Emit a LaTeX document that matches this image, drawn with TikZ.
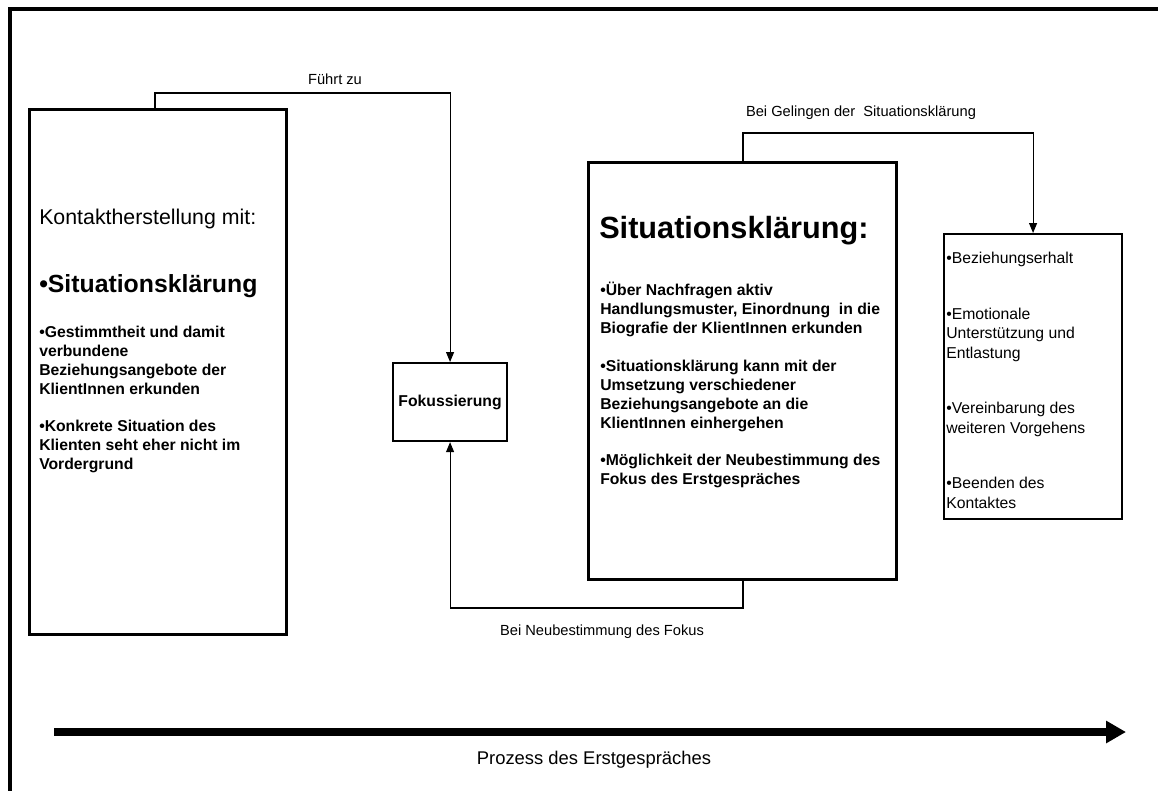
\documentclass[tikz,border=0pt]{standalone}
\usepackage{fontspec}
\setmainfont{Liberation Sans}
\usetikzlibrary{arrows.meta}

\begin{document}
\begin{tikzpicture}[x=0.75pt,y=-0.75pt,
  frame/.style={line width=3pt},
  boxthick/.style={draw,line width=2.2pt,inner sep=0pt,anchor=north west},
  boxthin/.style={draw,line width=1.6pt,inner sep=0pt,anchor=north west},
  conn/.style={line width=0.8pt,-{Triangle[length=7.5pt,width=6pt]}},
  txt/.style={inner sep=0pt,anchor=base west,align=left},
  bul/.style={txt,font=\fontsize{11.8pt}{14.25pt}\selectfont\bfseries},
  reg/.style={txt,font=\fontsize{11.8pt}{14.6pt}\selectfont},
  lbl/.style={inner sep=0pt,font=\fontsize{11pt}{13pt}\selectfont},
  flow/.style={line width=6pt,-{Triangle[length=15pt,width=16pt]}}
]
\clip (0,0) rectangle (1158,790);
\fill[white] (0,0) rectangle (1158,790);

% outer frame, running off the page to the right and at the bottom
\draw[frame] (10,9) rectangle (1200,830);

% boxes
\node[boxthick,minimum width=192.75pt,minimum height=393.75pt] (L) at (28,108) {};
\node[boxthin,minimum width=85.5pt,minimum height=58.5pt] (F) at (392,362) {};
\node[font=\fontsize{11.8pt}{14pt}\selectfont\bfseries,inner sep=0pt] (Ft) at (F.center) {Fokussierung};
\node[boxthick,minimum width=231pt,minimum height=312.75pt] (S) at (587,161) {};
\node[boxthin,minimum width=133.5pt,minimum height=213.75pt] (R) at (943,233) {};

% left box text (multi-line blocks are placed by the baseline of their last line)
\node[txt,font=\fontsize{16pt}{18pt}\selectfont] (K1) at (39,224) {Kontaktherstellung mit:};
\node[txt,font=\fontsize{18.6pt}{21pt}\selectfont\bfseries] (K2) at (39,292) {•Situationsklärung};
\node[bul] (K3) at (39,394) {•Gestimmtheit und damit\\verbundene\\Beziehungsangebote der\\KlientInnen erkunden};
\node[bul] (K4) at (39,469) {•Konkrete Situation des\\Klienten seht eher nicht im\\Vordergrund};

% middle box text
\node[txt,font=\fontsize{23pt}{26pt}\selectfont\bfseries] (M1) at (599,238) {Situationsklärung:};
\node[bul] (M2) at (600,333) {•Über Nachfragen aktiv\\Handlungsmuster, Einordnung\ \ in die\\Biografie der KlientInnen erkunden};
\node[bul] (M3) at (600,428) {•Situationsklärung kann mit der\\Umsetzung verschiedener\\Beziehungsangebote an die\\KlientInnen einhergehen};
\node[bul] (M4) at (600,484) {•Möglichkeit der Neubestimmung des\\Fokus des Erstgespräches};

% right box text
\node[reg] (R1) at (946,263) {•Beziehungserhalt};
\node[reg] (R2) at (946,358) {•Emotionale\\Unterstützung und\\Entlastung};
\node[reg] (R3) at (946,433) {•Vereinbarung des\\weiteren Vorgehens};
\node[reg] (R4) at (946,508) {•Beenden des\\Kontaktes};

% connectors
\coordinate (f1) at (155,93);
\draw[conn] (f1 |- L.north) -- (f1) -| (F.north);
\node[lbl] (lf) at (335,79) {Führt zu};

\coordinate (g1) at (743,133);
\draw[conn] (g1 |- S.north) -- (g1) -| (R.north);
\node[lbl] (lg) at (861,113) {Bei Gelingen der\ \ Situationsklärung};

\coordinate (n1) at (743,608);
\draw[conn] (n1 |- S.south) -- (n1) -| (F.south);
\node[lbl] (ln) at (602,632) {Bei Neubestimmung des Fokus};

% process arrow
\coordinate (p0) at (54,732);
\coordinate (p1) at (1126,732);
\draw[flow] (p0) -- (p1);
\node[inner sep=0pt,font=\fontsize{13.8pt}{16pt}\selectfont] (lp) at (594,760) {Prozess des Erstgespräches};
\end{tikzpicture}
\end{document}
